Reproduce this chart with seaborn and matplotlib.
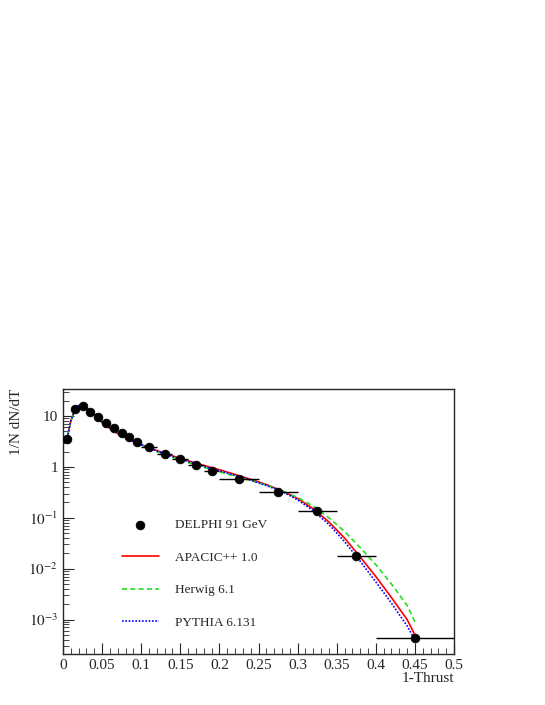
import matplotlib
matplotlib.use("Agg")
import matplotlib.pyplot as plt
import seaborn as sns
import numpy as np
import pandas as pd
from matplotlib.ticker import MultipleLocator, LogLocator, FixedLocator, FixedFormatter

sns.set_style("ticks")
plt.rcParams['font.family'] = ['Liberation Serif', 'DejaVu Serif']
plt.rcParams['mathtext.fontset'] = 'stix'

data_x = [0.005, 0.015, 0.025, 0.035, 0.045, 0.055, 0.065, 0.075, 0.085, 0.095,
          0.11, 0.13, 0.15, 0.17, 0.19, 0.225, 0.275, 0.325, 0.375, 0.45]
data_y = [3.5, 14, 16, 12, 9.5, 7.3, 5.8, 4.7, 3.8, 3.1,
          2.45, 1.8, 1.4, 1.07, 0.83, 0.58, 0.32, 0.133, 0.018, 0.00043]
data_xerr = [0.005]*10 + [0.01]*5 + [0.025]*4 + [0.05]

curve_x = [0, 0.005, 0.01, 0.015, 0.02, 0.025, 0.03, 0.04, 0.05, 0.06, 0.07, 0.08, 0.09, 0.1,
           0.12, 0.14, 0.16, 0.18, 0.2, 0.22, 0.24, 0.26, 0.28, 0.3, 0.32, 0.34, 0.36, 0.38,
           0.4, 0.42, 0.44, 0.45]
apacic_y = [3.0, 3.5, 8, 13, 16, 16.5, 14.5, 10.5, 7.4, 5.7, 4.5, 3.75, 3.2, 2.75,
            2.1, 1.65, 1.32, 1.07, 0.88, 0.71, 0.57, 0.45, 0.34, 0.24, 0.15, 0.083, 0.04, 0.017,
            0.007, 0.0027, 0.001, 0.0005]
herwig_y = [3.0, 3.5, 8, 13, 16, 16.5, 14.5, 10.8, 7.8, 5.9, 4.7, 3.85, 3.2, 2.7,
            2.0, 1.55, 1.22, 0.98, 0.8, 0.66, 0.54, 0.44, 0.34, 0.25, 0.17, 0.1, 0.054, 0.026,
            0.012, 0.005, 0.0019, 0.0009]
pythia_y = [3.0, 3.5, 8, 13, 16, 16.5, 14.5, 10.8, 7.8, 5.9, 4.7, 3.85, 3.2, 2.75,
            2.05, 1.6, 1.27, 1.02, 0.84, 0.68, 0.55, 0.43, 0.33, 0.225, 0.138, 0.074, 0.034, 0.014,
            0.0055, 0.0021, 0.00075, 0.0004]

W, H = 545, 705
fig = plt.figure(figsize=(W/100, H/100), dpi=100)
ax = fig.add_axes([63/W, 1-654/H, (454-63)/W, (654-389)/H])

dfc = pd.DataFrame({"x": curve_x*3,
                    "y": apacic_y + herwig_y + pythia_y,
                    "model": ["APACIC++ 1.0"]*len(curve_x) + ["Herwig 6.1"]*len(curve_x) + ["PYTHIA 6.131"]*len(curve_x)})
styles = {"APACIC++ 1.0": ("red", "-"), "Herwig 6.1": ("#22dd22", (0, (3, 2))), "PYTHIA 6.131": ("blue", (0, (1, 1)))}
handles = {}
for m, (c, ls) in styles.items():
    sub = dfc[dfc.model == m]
    sns.lineplot(x=sub.x, y=sub.y, ax=ax, color=c, linestyle=ls, lw=1.2, label=m, legend=False)

ax.errorbar(data_x, data_y, xerr=data_xerr, fmt='none', ecolor='black', elinewidth=1, zorder=2)
sns.scatterplot(x=data_x, y=data_y, ax=ax, color='black', s=40, edgecolor='black', zorder=3,
                label="DELPHI 91 GeV", legend=False)

ax.set_yscale('log')
ax.set_xlim(0, 0.5)
ax.set_ylim(2.1e-4, 34)
ax.xaxis.set_major_locator(MultipleLocator(0.05))
ax.xaxis.set_minor_locator(MultipleLocator(0.01))
ax.xaxis.set_major_formatter(FixedFormatter(["0","0.05","0.1","0.15","0.2","0.25","0.3","0.35","0.4","0.45","0.5"]))
ax.xaxis.set_major_locator(FixedLocator([0,0.05,0.1,0.15,0.2,0.25,0.3,0.35,0.4,0.45,0.5]))
ax.yaxis.set_major_locator(FixedLocator([1e-3, 1e-2, 1e-1, 1, 10]))
ax.yaxis.set_major_formatter(FixedFormatter(["$10^{-3}$", "$10^{-2}$", "$10^{-1}$", "1", "10"]))
ax.yaxis.set_minor_locator(LogLocator(base=10, subs=np.arange(2, 10), numticks=20))
ax.tick_params(which='both', direction='in', labelsize=11, top=False, right=False)
ax.tick_params(which='major', length=8)
ax.tick_params(which='minor', length=4)
for s in ax.spines.values():
    s.set_linewidth(1)
ax.set_xlabel("1-Thrust", fontsize=11, loc='right', labelpad=0)
ax.set_ylabel("1/N dN/dT", fontsize=11, loc='top')

h, l = ax.get_legend_handles_labels()
order = [l.index("DELPHI 91 GeV"), l.index("APACIC++ 1.0"), l.index("Herwig 6.1"), l.index("PYTHIA 6.131")]
ax.legend([h[i] for i in order], [l[i] for i in order], loc='upper left',
          bbox_to_anchor=(0.12, 0.555), frameon=False, fontsize=9.5, labelspacing=1.55,
          handlelength=2.8, handletextpad=1.2)

fig.savefig("out.png", dpi=100)
